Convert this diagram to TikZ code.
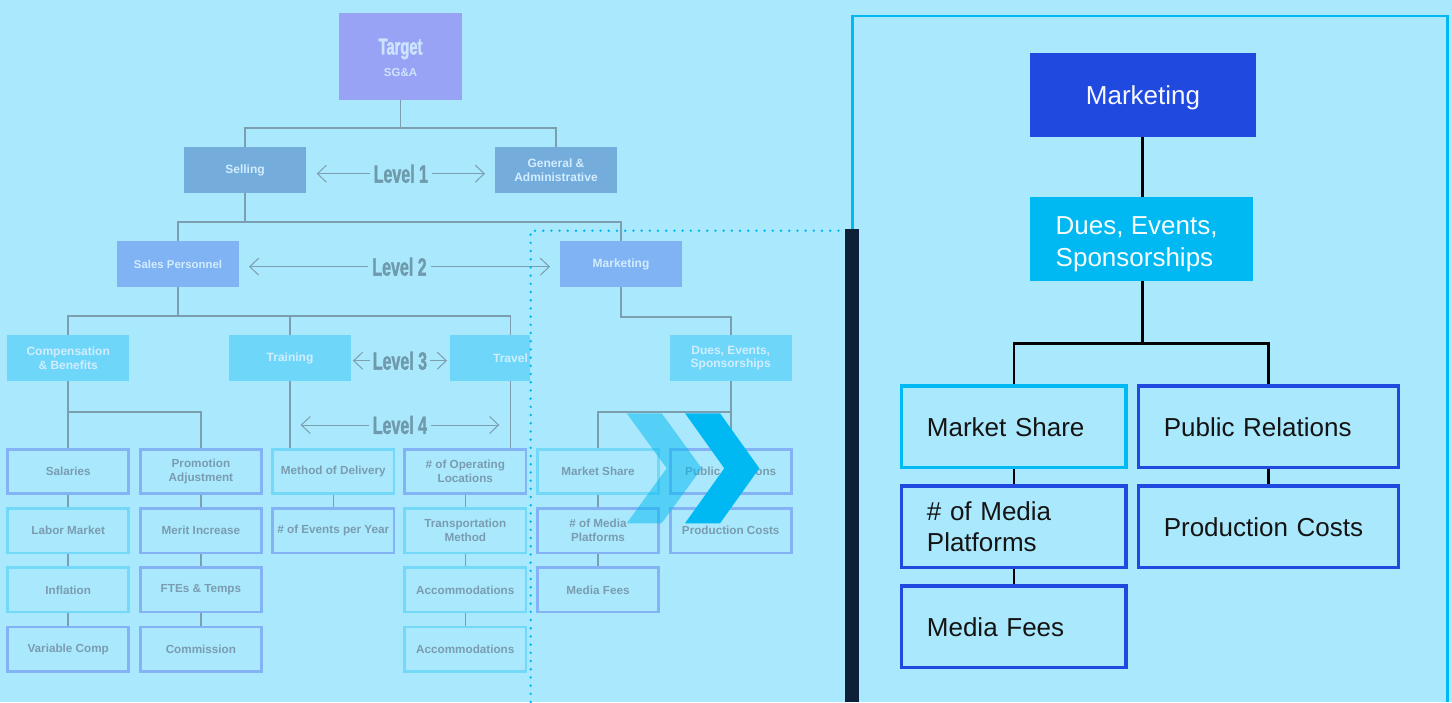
\documentclass[tikz,border=0pt]{standalone}
\usepackage{fontspec}
\setmainfont{Liberation Sans}
\newfontfamily\condfont{Liberation Sans}[FakeStretch=0.64, FakeBold=1.3]
\usepackage{graphicx}
\usetikzlibrary{arrows.meta}
\definecolor{bg}{HTML}{AAE9FD}
\definecolor{tgt}{HTML}{99A3F6}
\definecolor{lone}{HTML}{74ACDC}
\definecolor{ltwo}{HTML}{80B3F3}
\definecolor{lthree}{HTML}{6ED7F9}
\definecolor{bblue}{HTML}{84B3F5}
\definecolor{bcyan}{HTML}{74D8F8}
\definecolor{ltxt}{HTML}{D2EDFF}
\definecolor{gtxt}{HTML}{7A9CB0}
\definecolor{tline}{HTML}{7C9FAF}
\definecolor{lvl}{HTML}{6F9AAC}
\definecolor{cyanA}{HTML}{00B8F2}
\definecolor{blueA}{HTML}{2049E0}
\definecolor{navy}{HTML}{0E2038}
\tikzset{
 fbox/.style={inner sep=0pt, minimum width=122pt, minimum height=46pt, text=ltxt,
   font=\fontsize{12}{13.7}\selectfont\bfseries, align=center},
 lfour/.style={draw, line width=2.8pt, inner sep=0pt, minimum width=121.2pt, minimum height=44.2pt,
   text=gtxt, font=\fontsize{11.7}{14}\selectfont\bfseries, align=center},
 lb/.style={lfour, draw=bblue},
 lc/.style={lfour, draw=bcyan},
 tl/.style={draw=tline, line width=1.6pt},
 lvarrow/.style={draw=tline, line width=1pt,
   {Straight Barb[length=9pt,width=17pt]}-{Straight Barb[length=9pt,width=17pt]}},
 lvlabel/.style={fill=bg, inner xsep=4pt, inner ysep=0pt, text=lvl,
   font=\condfont\bfseries\fontsize{25}{25}\selectfont},
 rbox/.style={draw, line width=3.4pt, inner xsep=25.5pt, inner ysep=0pt, minimum height=81.6pt,
   align=left, text=black!92, font=\fontsize{26}{31.7}\selectfont},
 rboxl/.style={rbox, text width=173.6pt},
 rboxr/.style={rbox, text width=209.5pt},
 rl/.style={draw=black, line width=2.2pt},
}
\begin{document}
\begin{tikzpicture}[x=1pt,y=-1pt]
\useasboundingbox (0,0) rectangle (1452,702);
\fill[bg] (0,0) rectangle (1452,702);

% ---------- left tree ----------
\node[fbox, fill=tgt, minimum width=123pt, minimum height=87pt] (target) at (400.5,56.5) {};
\node[inner sep=0pt, text=ltxt!90!tgt, font=\condfont\bfseries\fontsize{23}{23}\selectfont] (targett) at (400.5,49) {Target};
\node[inner sep=0pt, text=ltxt!90!tgt, font=\fontsize{11.5}{11.5}\selectfont\bfseries] (targets) at (400.5,72.7) {SG\&A};

\node[fbox, fill=lone] (selling) at (245,170) {Selling};
\node[fbox, fill=lone] (ga) at (556,170) {General \&\\Administrative};

\node[fbox, fill=ltwo, font=\fontsize{11.4}{12}\selectfont\bfseries] (salesp) at (178,264) {Sales Personnel};
\node[fbox, fill=ltwo] (mktl) at (621,264) {Marketing};

\node[fbox, fill=lthree] (comp) at (68.2,358) {Compensation\\\& Benefits};
\node[fbox, fill=lthree] (training) at (290,358) {Training};
\fill[lthree] (450,335) rectangle (530,381);
\node[fbox, minimum width=121pt] (travel) at (510.5,358) {Travel};
\node[fbox, fill=lthree] (duesl) at (730.7,358) {Dues, Events,\\Sponsorships};

% level 4
\node[lb] (sal) at (68.2,471.7) {Salaries};
\node[lc] (lab) at (68.2,530.8) {Labor Market};
\node[lc] (inf) at (68.2,589.9) {Inflation};
\node[lb] (var) at (68.2,649) {Variable Comp};
\node[lb] (pro) at (200.9,471.7) {Promotion\\Adjustment};
\node[lb] (mer) at (200.9,530.8) {Merit Increase};
\node[lb] (fte) at (200.9,589.9) {FTEs \& Temps};
\node[lb] (com) at (200.9,649) {Commission};
\node[lc] (mod) at (333.3,471.7) {Method of Delivery};
\node[lb] (epy) at (333.3,530.8) {\# of Events per Year};
\node[lb] (opl) at (465.3,471.7) {\# of Operating\\Locations};
\node[lc] (tra) at (465.3,530.8) {Transportation\\Method};
\node[lc] (acca) at (465.3,589.9) {Accommodations};
\node[lc] (accb) at (465.3,649) {Accommodations};
\node[lc] (msh) at (598,471.7) {Market Share};
\node[lb] (mpl) at (598,530.8) {\# of Media\\Platforms};
\node[lb] (mfe) at (598,589.9) {Media Fees};
\node[lb] (pub) at (730.7,471.7) {Public Relations};
\node[lb] (prc) at (730.7,530.8) {Production Costs};

% connectors
\draw[tl] (target.south) -- ++(0,28) -| (selling.north);
\draw[tl] (target.south) -- ++(0,28) -| (ga.north);
\draw[tl] (selling.south) -- ++(0,29) -| (salesp.north);
\draw[tl] (selling.south) -- ++(0,29) -| (mktl.north);
\draw[tl] (salesp.south) -- ++(0,29) -| (comp.north);
\draw[tl] (salesp.south) -- ++(0,29) -| (training.north);
\draw[tl] (salesp.south) -- ++(0,29) -| (travel.north);
\draw[tl] (mktl.south) -- ++(0,29.7) -| (duesl.north);
\draw[tl] (comp.south) -- ++(0,31) -| (sal.north);
\draw[tl] (comp.south) -- ++(0,31) -| (pro.north);
\draw[tl] (duesl.south) -- ++(0,31) -| (msh.north);
\draw[tl] (duesl.south) -- ++(0,31) -| (pub.north);
\draw[tl] (training.south) -- (training.south |- mod.north);
\draw[tl] (travel.south) -- (travel.south |- opl.north);
\draw[tl] (sal) -- (lab); \draw[tl] (lab) -- (inf); \draw[tl] (inf) -- (var);
\draw[tl] (pro) -- (mer); \draw[tl] (mer) -- (fte); \draw[tl] (fte) -- (com);
\draw[tl] (mod) -- (epy);
\draw[tl] (opl) -- (tra); \draw[tl] (tra) -- (acca); \draw[tl] (acca) -- (accb);
\draw[tl] (msh) -- (mpl); \draw[tl] (mpl) -- (mfe);
\draw[tl] (pub) -- (prc);

% level labels
\coordinate (l1a) at (316.7,173.7); \coordinate (l1b) at (485,173.7);
\coordinate (l2a) at (249,266.7);   \coordinate (l2b) at (550,266.7);
\coordinate (l3a) at (352.9,360.7); \coordinate (l3b) at (447,360.7);
\coordinate (l4a) at (300.6,425);   \coordinate (l4b) at (499.3,425);
\draw[lvarrow] (l1a) -- node[lvlabel] (lv1) {Level 1} (l1b);
\draw[lvarrow] (l2a) -- node[lvlabel] (lv2) {Level 2} (l2b);
\draw[lvarrow] (l3a) -- node[lvlabel, inner xsep=3pt] (lv3) {Level 3} (l3b);
\draw[lvarrow] (l4a) -- node[lvlabel] (lv4) {Level 4} (l4b);

% dotted guide
\coordinate (dva) at (530.7,702); \coordinate (dvb) at (530.7,230.7); \coordinate (dvc) at (840,230.7);
\draw[cyanA, line width=2.7pt, line cap=round, dash pattern=on 0pt off 8.2pt] (dva) -- (dvb) -- (dvc);

% chevrons
\fill[cyanA, fill opacity=0.5] (626.7,413.3) -- (661.7,413.3) -- (701.7,468.3) -- (661.7,523.3) -- (626.7,523.3) -- (666.7,468.3) -- cycle;
\fill[cyanA] (685,413.3) -- (720,413.3) -- (759.3,468.3) -- (720,523.3) -- (685,523.3) -- (724.3,468.3) -- cycle;

% ---------- right panel ----------
\draw[cyanA, line width=2.7pt] (852.8,229) -- (852.8,16) -- (1447.2,16) -- (1447.2,702);
\fill[navy] (845,229) rectangle (859,702);

\node[fill=blueA, inner sep=0pt, minimum width=226pt, minimum height=83.7pt, text=white!96!blueA,
  font=\fontsize{26}{31.7}\selectfont, text depth=0pt] (rmkt) at (1143,94.85) {Marketing};
\node[fill=cyanA, inner sep=0pt, minimum width=223pt, minimum height=83.7pt] (rdues) at (1141.5,238.85) {};
\node[anchor=west, inner sep=0pt, align=left, text=white!96!cyanA, font=\fontsize{26}{31.7}\selectfont]
  (rduest) at (1055.5,244) {Dues, Events,\\Sponsorships};

\node[rboxl, draw=cyanA] (rms) at (1013.7,426.8) {Market Share};
\node[rboxr, draw=blueA] (rpr) at (1268.5,426.8) {Public Relations};
\node[rboxl, draw=blueA] (rmp) at (1013.7,526.8) {\# of Media\\Platforms};
\node[rboxr, draw=blueA] (rpc) at (1268.5,526.8) {Production Costs};
\node[rboxl, draw=blueA] (rmf) at (1013.7,626.8) {Media Fees};

\draw[rl] (rmkt.south -| 1142.5,0) -- (rdues.north -| 1142.5,0);
\draw[rl] (rdues.south -| 1142.5,0) -- ++(0,62.5) -| (rms.north);
\draw[rl] (rdues.south -| 1142.5,0) -- ++(0,62.5) -| (rpr.north);
\draw[rl] (rms) -- (rmp);
\draw[rl] (rmp) -- (rmf);
\draw[rl] (rpr) -- (rpc);
\end{tikzpicture}
\end{document}
